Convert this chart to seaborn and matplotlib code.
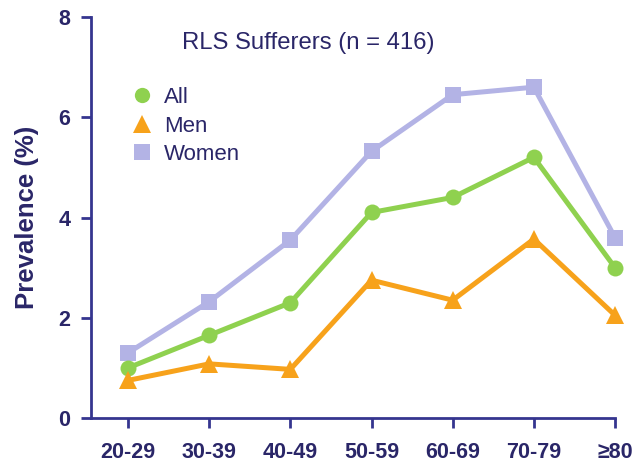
import matplotlib
matplotlib.use("Agg")
import matplotlib.pyplot as plt
from matplotlib.lines import Line2D
import seaborn as sns
import pandas as pd

# Age groups and prevalence (%) of restless legs syndrome
age_groups = ["20-29", "30-39", "40-49", "50-59", "60-69", "70-79", "\u226580"]
prev_all = [1.0, 1.65, 2.3, 4.1, 4.4, 5.2, 3.0]
prev_men = [0.75, 1.08, 0.97, 2.75, 2.35, 3.57, 2.05]
prev_women = [1.3, 2.32, 3.55, 5.32, 6.45, 6.6, 3.6]
series_names = ["All", "Men", "Women"]
y_ticks = [0, 2, 4, 6, 8]

sns.set_style("white")
plt.rcParams["font.family"] = ["Liberation Sans", "DejaVu Sans"]

AXIS = "#35358f"
TEXT = "#2a2668"
colors = {"All": "#8fd14f", "Men": "#f7a21b", "Women": "#b3b3e5"}
markers = {"All": "o", "Men": "^", "Women": "s"}
msize = {"All": 11.5, "Men": 13, "Women": 11.5}

df = pd.DataFrame({
    "age": age_groups * 3,
    "prevalence": prev_all + prev_men + prev_women,
    "group": ["All"] * 7 + ["Men"] * 7 + ["Women"] * 7,
})

fig = plt.figure(figsize=(6.36, 4.62), dpi=100)
ax = fig.add_axes([91 / 636, 1 - 418 / 462, (615 - 91) / 636, (418 - 17) / 462])

for name in ["Women", "All", "Men"]:
    sub = df[df["group"] == name]
    sns.lineplot(data=sub, x="age", y="prevalence", ax=ax, color=colors[name],
                 linewidth=3.6, marker=markers[name], markersize=msize[name],
                 markeredgewidth=0, clip_on=False, sort=False, zorder=3)

ax.set_xlim(-0.456, 6)
ax.set_ylim(0, 8)
ax.set_yticks(y_ticks)
ax.set_xticks(range(len(age_groups)))
ax.set_xticklabels(age_groups)

for side in ["top", "right"]:
    ax.spines[side].set_visible(False)
for side in ["left", "bottom"]:
    ax.spines[side].set_color(AXIS)
    ax.spines[side].set_linewidth(2.0)

ax.tick_params(axis="both", which="major", direction="out", length=7, width=2.0,
               color=AXIS, labelcolor=TEXT, labelsize=15.5, bottom=True, left=True)
ax.tick_params(axis="y", pad=8)
ax.tick_params(axis="x", pad=10)
for lab in ax.get_xticklabels() + ax.get_yticklabels():
    lab.set_fontweight("bold")

ax.set_xlabel("")
ax.set_ylabel("Prevalence (%)", fontsize=18.5, fontweight="bold", color=TEXT, labelpad=14)

ax.text(308 / 636, 1 - 43 / 462, "RLS Sufferers (n = 416)", transform=fig.transFigure,
        ha="center", va="center", fontsize=17.2, color=TEXT)

handles = [Line2D([], [], linestyle="none", marker=markers[n], color=colors[n],
                  markersize=msize[n] - 0.5, markeredgewidth=0) for n in series_names]
leg = ax.legend(handles, series_names, loc="upper left",
                bbox_to_anchor=(131 / 636, 1 - 87 / 462), bbox_transform=fig.transFigure,
                frameon=False, fontsize=16, handlelength=1.0, handletextpad=0.5,
                labelspacing=0.34, borderpad=0, borderaxespad=0)
for t in leg.get_texts():
    t.set_color(TEXT)

fig.savefig("out.png", dpi=100)
